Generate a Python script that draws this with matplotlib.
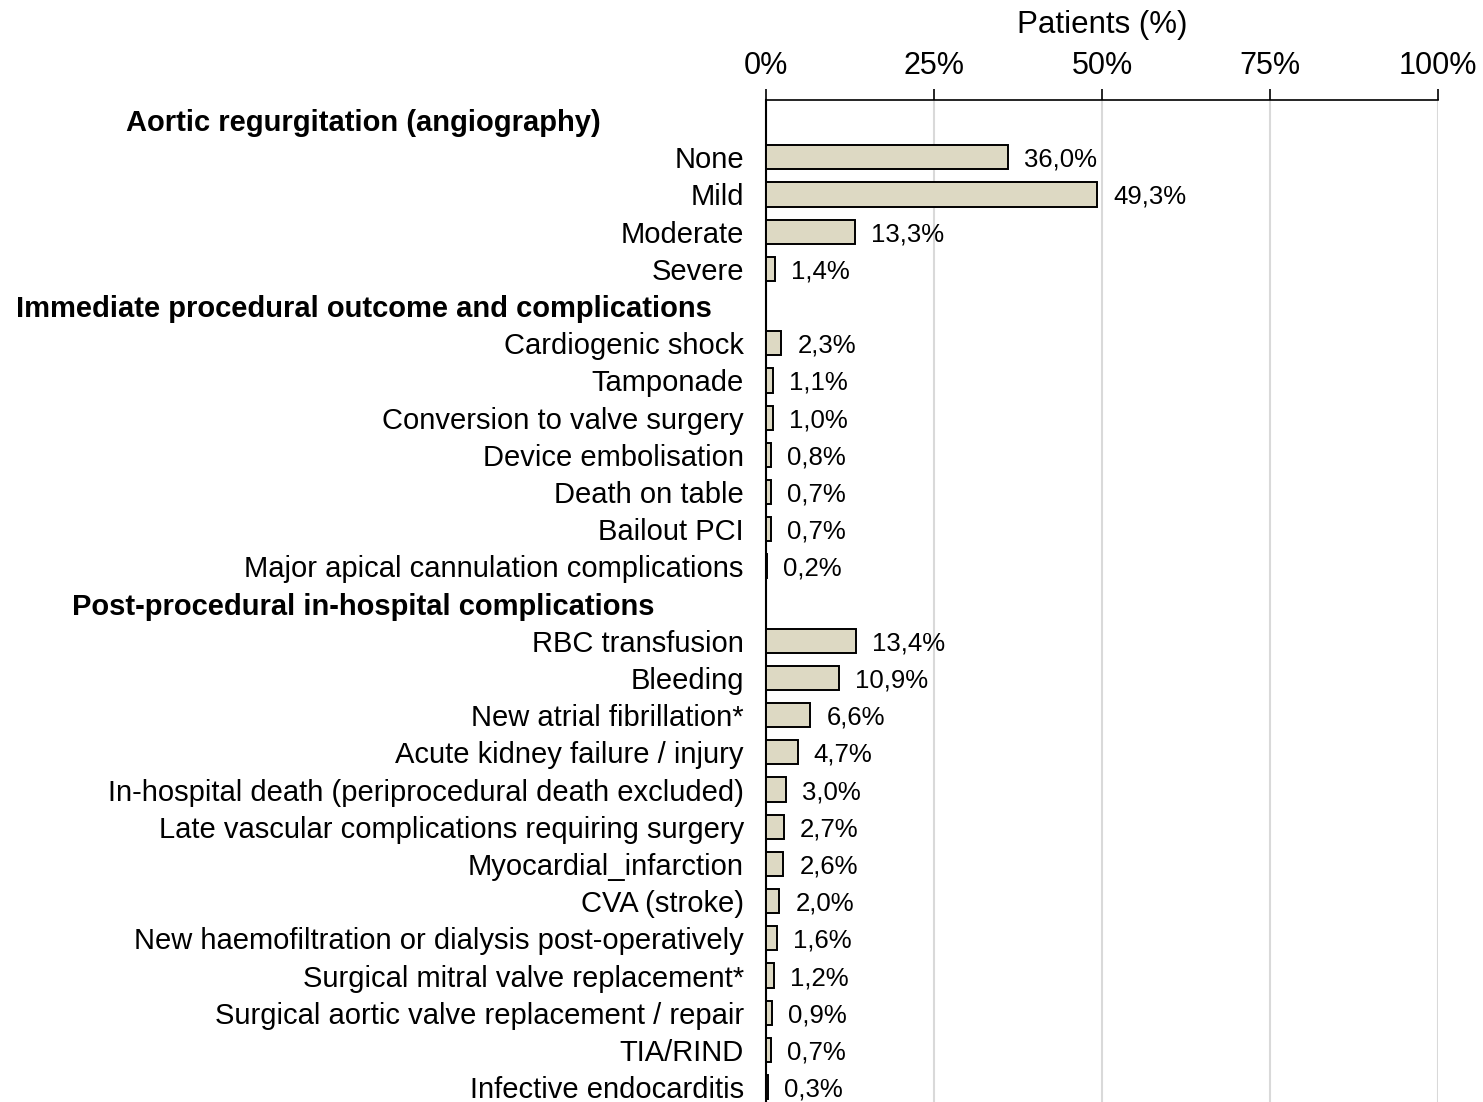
import matplotlib
matplotlib.use("Agg")
import matplotlib.pyplot as plt
import matplotlib.transforms as mtransforms

plt.rcParams['font.family'] = ['Liberation Sans', 'DejaVu Sans']

group_titles = [
    "Aortic regurgitation (angiography)",
    "Immediate procedural outcome and complications",
    "Post-procedural in-hospital complications",
]
ar_labels = ["None", "Mild", "Moderate", "Severe"]
ar_values = [36.0, 49.3, 13.3, 1.4]
proc_labels = ["Cardiogenic shock", "Tamponade", "Conversion to valve surgery",
               "Device embolisation", "Death on table", "Bailout PCI",
               "Major apical cannulation complications"]
proc_values = [2.3, 1.1, 1.0, 0.8, 0.7, 0.7, 0.2]
post_labels = ["RBC transfusion", "Bleeding", "New atrial fibrillation*",
               "Acute kidney failure / injury",
               "In-hospital death (periprocedural death excluded)",
               "Late vascular complications requiring surgery",
               "Myocardial_infarction", "CVA (stroke)",
               "New haemofiltration or dialysis post-operatively",
               "Surgical mitral valve replacement*",
               "Surgical aortic valve replacement / repair",
               "TIA/RIND", "Infective endocarditis"]
post_values = [13.4, 10.9, 6.6, 4.7, 3.0, 2.7, 2.6, 2.0, 1.6, 1.2, 0.9, 0.7, 0.3]
x_ticks = [0, 25, 50, 75, 100]
x_ticklabels = ["0%", "25%", "50%", "75%", "100%"]

bar_color = "#DDD9C3"


def main():
    groups = [(ar_labels, ar_values), (proc_labels, proc_values), (post_labels, post_values)]

    fig = plt.figure(figsize=(14.83, 11.02), dpi=100)
    ax = fig.add_axes([766 / 1483, 0.0, 672 / 1483, 1 - 100 / 1102])

    row = 0
    ypos, labels, values, header_rows = [], [], [], []
    for title, (labs, vals) in zip(group_titles, groups):
        header_rows.append((row, title))
        row += 1
        for lab, val in zip(labs, vals):
            ypos.append(row)
            labels.append(lab)
            values.append(val)
            row += 1

    ax.barh(ypos, values, height=0.65, color=bar_color, edgecolor="black",
            linewidth=1.4, zorder=3)

    for y, v in zip(ypos, values):
        ax.annotate(f"{v:.1f}".replace(".", ",") + "%", (v, y),
                    xytext=(11.5, 0), textcoords="offset points",
                    va="center_baseline", ha="left", fontsize=18.5)

    trans = mtransforms.blended_transform_factory(ax.transAxes, ax.transData)
    for r, title in header_rows:
        ax.text(-0.599, r, title, transform=trans, ha="center",
                va="center_baseline", fontsize=21, fontweight="bold")

    ax.set_yticks(ypos)
    ax.set_yticklabels(labels, fontsize=21)
    ax.tick_params(axis="y", length=0, pad=16)

    ax.set_xlim(0, 100)
    ax.set_ylim(26.4, -0.54)
    ax.xaxis.tick_top()
    ax.xaxis.set_label_position("top")
    ax.set_xticks(x_ticks)
    ax.set_xticklabels(x_ticklabels, fontsize=22)
    ax.tick_params(axis="x", direction="out", length=8, width=1.2, pad=5.5)
    ax.set_xlabel("Patients (%)", fontsize=22.5, labelpad=13)

    ax.grid(axis="x", color="#D9D9D9", linewidth=1.5, zorder=0)
    ax.set_axisbelow(True)
    for side in ["right", "bottom"]:
        ax.spines[side].set_visible(False)
    ax.spines["top"].set_linewidth(1.2)
    ax.spines["left"].set_linewidth(1.5)

    fig.savefig("out.png", dpi=100)


if __name__ == "__main__":
    main()
